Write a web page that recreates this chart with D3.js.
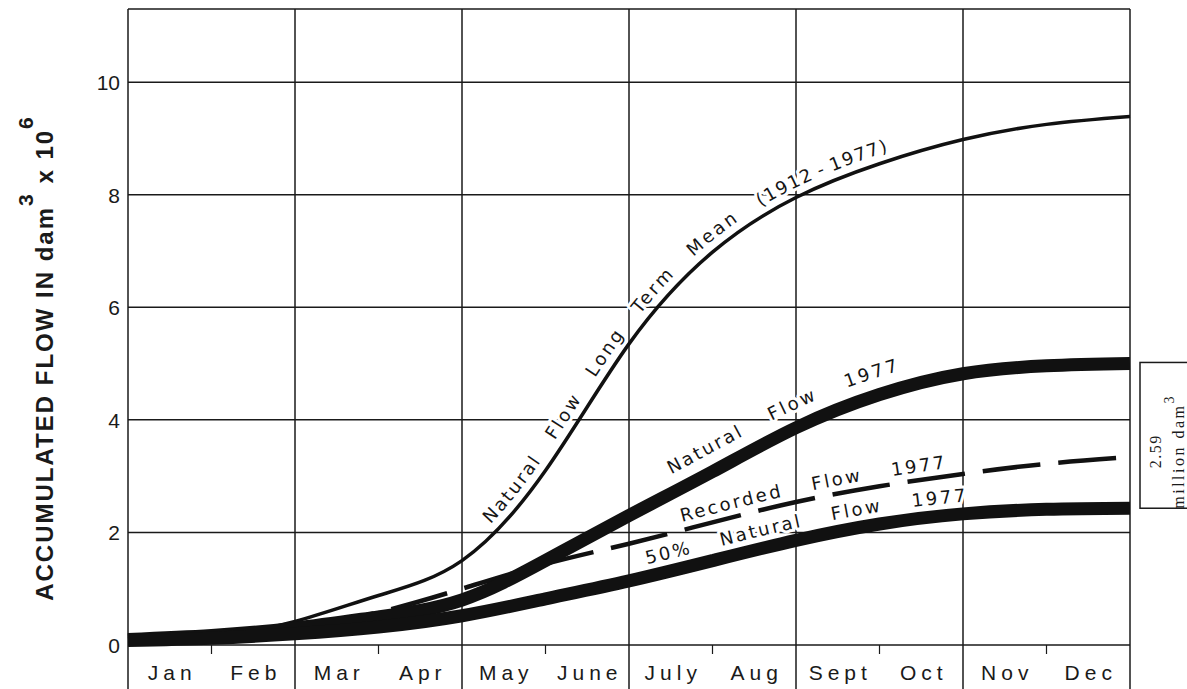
<!DOCTYPE html>
<html>
<head>
<meta charset="utf-8">
<script src="https://cdn.jsdelivr.net/npm/d3@7"></script>
<style>
  html, body { margin: 0; padding: 0; background: #fff; }
  svg { display: block; }
  .grid line { stroke: #1a1a1a; stroke-width: 1.5; }
  .curve-label {
    font-family: "DejaVu Sans", sans-serif;
    font-size: 18px;
    letter-spacing: 2.5px;
    word-spacing: 21px;
    fill: #151515;
    stroke: #fff;
    stroke-width: 6px;
    stroke-linejoin: round;
    paint-order: stroke;
  }
</style>
</head>
<body>
<svg id="chart" width="1187" height="689"></svg>
<script>
// Month names along the bottom and the month boundaries (0 = 1 Jan, 12 = 31 Dec)
const months = ["Jan", "Feb", "Mar", "Apr", "May", "June", "July", "Aug", "Sept", "Oct", "Nov", "Dec"];
const monthEnds = [0, 1, 2, 3, 4, 5, 6, 7, 8, 9, 10, 11, 12];

// Accumulated flow, dam³ x 10⁶, at each month boundary
const longTermMean        = [0.06, 0.14, 0.42, 0.88, 1.50, 3.10, 5.35, 6.98, 7.95, 8.55, 8.98, 9.25, 9.39];
const naturalFlow1977     = [0.10, 0.17, 0.30, 0.50, 0.80, 1.50, 2.30, 3.08, 3.86, 4.45, 4.82, 4.96, 5.00];
const recordedFlow1977    = [0.10, 0.16, 0.30, 0.58, 1.00, 1.44, 1.80, 2.18, 2.54, 2.82, 3.04, 3.22, 3.34];
const halfNaturalFlow1977 = [0.08, 0.12, 0.20, 0.32, 0.52, 0.82, 1.14, 1.50, 1.86, 2.15, 2.33, 2.41, 2.43];

const yTicks = [0, 2, 4, 6, 8, 10];
const gridColumns = [0, 2, 4, 6, 8, 10, 12];
const midTicks = [1, 3, 5, 7, 9, 11];
const shortfall = 2.59; // million dam³ between 1977 natural flow and its 50 %

const svg = d3.select("#chart");
const W = 1187, H = 689;
const plot = { left: 128, right: 1130, top: 9, bottom: 645 };

const x = d3.scaleLinear().domain([0, 12]).range([plot.left, plot.right]);
const y = d3.scaleLinear().domain([0, 11.3]).range([plot.bottom, plot.top]);

// ---- grid and frame ----
const grid = svg.append("g").attr("class", "grid");
grid.selectAll("line.h").data(yTicks.filter(d => d > 0)).join("line")
  .attr("class", "h")
  .attr("x1", plot.left).attr("x2", plot.right)
  .attr("y1", d => y(d)).attr("y2", d => y(d));
grid.append("line").attr("x1", plot.left).attr("x2", plot.right)
  .attr("y1", plot.top).attr("y2", plot.top);
grid.append("line").attr("x1", plot.left).attr("x2", plot.right)
  .attr("y1", y(0)).attr("y2", y(0));
grid.selectAll("line.v").data(gridColumns).join("line")
  .attr("class", "v")
  .attr("x1", d => x(d)).attr("x2", d => x(d))
  .attr("y1", plot.top).attr("y2", H);
grid.selectAll("line.t").data(midTicks).join("line")
  .attr("class", "t")
  .style("stroke-width", 1.2)
  .attr("x1", d => x(d)).attr("x2", d => x(d))
  .attr("y1", y(0)).attr("y2", y(0) + 9);

// ---- axis labels ----
const yAxis = d3.axisLeft(y).tickValues(yTicks).tickSize(0).tickPadding(0).tickFormat(d3.format("d"));
const yg = svg.append("g").attr("transform", `translate(${plot.left - 8},0)`).call(yAxis);
yg.select(".domain").remove();
yg.selectAll("text")
  .style("font-family", "'Liberation Sans', Arial, sans-serif")
  .style("font-size", "21px")
  .attr("fill", "#1a1a1a")
  .attr("dy", "0.36em");

svg.append("g").selectAll("text").data(months).join("text")
  .attr("x", (d, i) => x(i + 0.5) + 2.5)
  .attr("y", 680)
  .attr("text-anchor", "middle")
  .style("font-family", "'Liberation Sans', Arial, sans-serif")
  .style("font-size", "21px")
  .style("letter-spacing", "5px")
  .attr("fill", "#1a1a1a")
  .text(d => d);

const title = svg.append("text")
  .attr("transform", "translate(53,358) rotate(-90)")
  .attr("text-anchor", "middle")
  .style("font-family", "'Liberation Sans', Arial, sans-serif")
  .style("font-weight", "bold")
  .style("font-size", "24px")
  .style("letter-spacing", "2px")
  .attr("fill", "#1a1a1a");
title.append("tspan").text("ACCUMULATED FLOW IN dam");
title.append("tspan").attr("dy", -20).style("font-size", "21px").text("3");
title.append("tspan").attr("dy", 20).text(" x 10");
title.append("tspan").attr("dy", -20).style("font-size", "21px").text("6");

// ---- curves ----
const line = d3.line()
  .x((d, i) => x(monthEnds[i]))
  .y(d => y(d))
  .curve(d3.curveNatural);

const curveLayer = svg.append("g");
const labelLayer = svg.insert("g", () => curveLayer.node());

const recPath = curveLayer.append("path").attr("id", "curve-recorded")
  .datum(recordedFlow1977).attr("d", line)
  .attr("fill", "none").attr("stroke", "#111").attr("stroke-width", 4.5);
const meanPath = curveLayer.append("path").attr("id", "curve-mean")
  .datum(longTermMean).attr("d", line)
  .attr("fill", "none").attr("stroke", "#111").attr("stroke-width", 3.5);
const natPath = curveLayer.append("path").attr("id", "curve-natural")
  .datum(naturalFlow1977).attr("d", line)
  .attr("fill", "none").attr("stroke", "#111").attr("stroke-width", 13);
const halfPath = curveLayer.append("path").attr("id", "curve-half")
  .datum(halfNaturalFlow1977).attr("d", line)
  .attr("fill", "none").attr("stroke", "#111").attr("stroke-width", 13);

// path length at which a curve reaches a given x position
function lengthAtX(node, px) {
  let lo = 0, hi = node.getTotalLength();
  for (let k = 0; k < 40; k++) {
    const mid = (lo + hi) / 2;
    if (node.getPointAtLength(mid).x < px) lo = mid; else hi = mid;
  }
  return lo;
}

// dashes of the recorded flow: long dash, short gap
const dashPeriod = 76, dashLen = 58;
const L0 = lengthAtX(recPath.node(), x(4.9));
recPath.attr("stroke-dasharray", `${dashLen},${dashPeriod - dashLen}`)
  .attr("stroke-dashoffset", (dashPeriod - (L0 % dashPeriod)) % dashPeriod);

// ---- labels running along the curves ----
const curveLabels = [
  { path: meanPath, at: 4.42, lift: -9, gap: 15,
    parts: [["Natural Flow Long Term Mean ", null], ["(1912 - 1977)", { ls: "1.5px", ws: "-2px" }]] },
  { path: natPath, at: 6.6, lift: -17, gap: 21, parts: [["Natural Flow 1977", null]] },
  { path: recPath, at: 6.66, lift: -8, gap: 21, parts: [["Recorded Flow 1977", null]] },
  { path: halfPath, at: 6.25, lift: -12, gap: 21, parts: [["50% Natural Flow 1977", null]] }
];
curveLabels.forEach(lab => {
  const node = lab.path.node();
  const tp = labelLayer.append("text").attr("class", "curve-label")
    .style("word-spacing", lab.gap + "px")
    .append("textPath")
    .attr("href", "#" + node.id)
    .attr("startOffset", lengthAtX(node, x(lab.at)));
  lab.parts.forEach(([txt, st], i) => {
    const ts = tp.append("tspan").text(txt);
    if (i === 0) ts.attr("dy", lab.lift);
    if (st) ts.style("letter-spacing", st.ls).style("word-spacing", st.ws);
  });
});

// ---- bracket at the right: gap between natural flow and 50 % natural flow ----
const last = halfNaturalFlow1977.length - 1;
const boxBottom = y(halfNaturalFlow1977[last]);
const boxTop = y(halfNaturalFlow1977[last] + shortfall);
svg.append("rect")
  .attr("x", 1140).attr("y", boxTop)
  .attr("width", 70).attr("height", boxBottom - boxTop)
  .attr("fill", "none").attr("stroke", "#1a1a1a").attr("stroke-width", 1.5);
const boxMid = (boxTop + boxBottom) / 2 + 16;
svg.append("text")
  .attr("transform", `translate(1161,${boxMid}) rotate(-90)`)
  .attr("text-anchor", "middle")
  .style("font-family", "'Liberation Serif', serif")
  .style("font-size", "16px")
  .style("letter-spacing", "1.5px")
  .attr("fill", "#1a1a1a")
  .text(shortfall.toFixed(2));
const unit = svg.append("text")
  .attr("transform", `translate(1184,${boxMid}) rotate(-90)`)
  .attr("text-anchor", "middle")
  .style("font-family", "'Liberation Serif', serif")
  .style("font-size", "16px")
  .style("letter-spacing", "2.5px")
  .attr("fill", "#1a1a1a");
unit.append("tspan").text("million dam");
unit.append("tspan").attr("dy", -10).style("font-size", "14px").text("3");
</script>
</body>
</html>
